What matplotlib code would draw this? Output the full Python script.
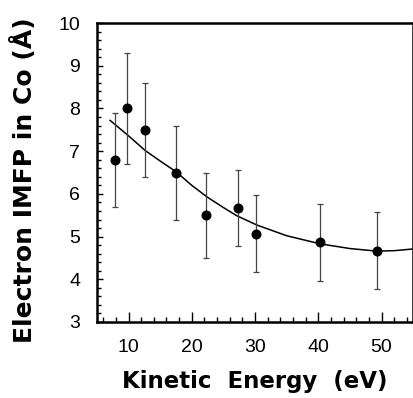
import matplotlib
matplotlib.use("Agg")
import matplotlib.pyplot as plt
from matplotlib.ticker import MultipleLocator

# measured points (kinetic energy in eV, IMFP in Angstrom)
energy = [7.8, 9.7, 12.6, 17.5, 22.3, 27.3, 30.2, 40.2, 49.3]
imfp = [6.8, 8.0, 7.5, 6.5, 5.5, 5.67, 5.07, 4.87, 4.67]
err_lo = [1.1, 1.3, 1.1, 1.1, 1.0, 0.9, 0.9, 0.9, 0.9]
err_hi = [1.1, 1.3, 1.1, 1.1, 1.0, 0.9, 0.9, 0.9, 0.9]

# fitted curve
fit_e = [7.1, 10, 12.6, 15, 17.5, 20, 22.4, 25, 27.1, 30.3, 35, 40.3, 45, 49.2, 52, 55]
fit_y = [7.72, 7.36, 7.02, 6.77, 6.52, 6.2, 5.93, 5.68, 5.49, 5.27, 5.02, 4.83, 4.72, 4.66, 4.67, 4.71]

plt.rcParams["font.family"] = ["Liberation Sans", "DejaVu Sans"]

fig = plt.figure(figsize=(4.14, 3.98), dpi=100)
ax = fig.add_axes([0.234, 0.191, 0.764, 0.751])

ax.plot(fit_e, fit_y, color="black", lw=1.1)
ax.errorbar(energy, imfp, yerr=[err_lo, err_hi], fmt="o", color="black",
            ecolor="#444444", elinewidth=0.9, capsize=2.5, capthick=0.9,
            markersize=6.2)

ax.set_xlim(5, 55)
ax.set_ylim(3, 10)
ax.xaxis.set_major_locator(MultipleLocator(10))
ax.xaxis.set_minor_locator(MultipleLocator(2))
ax.yaxis.set_major_locator(MultipleLocator(1))
ax.yaxis.set_minor_locator(MultipleLocator(0.2))

ax.tick_params(which="both", direction="in", top=False, right=False,
               labelsize=14, width=1)
ax.tick_params(axis="x", which="major", length=7, pad=12)
ax.tick_params(axis="x", which="minor", length=3.5)
ax.tick_params(axis="y", which="major", length=4, pad=12)
ax.tick_params(axis="y", which="minor", length=3)
for s in ax.spines.values():
    s.set_linewidth(1.8)

ax.set_xlabel("Kinetic  Energy  (eV)", family="DejaVu Sans", fontsize=16.5,
              fontweight="bold", labelpad=10)
ax.set_ylabel("Electron IMFP in Co (\u00c5)", family="DejaVu Sans", fontsize=18,
              fontweight="bold")
ax.yaxis.set_label_coords(-0.188, 0.475)

fig.savefig("out.png", dpi=100)
